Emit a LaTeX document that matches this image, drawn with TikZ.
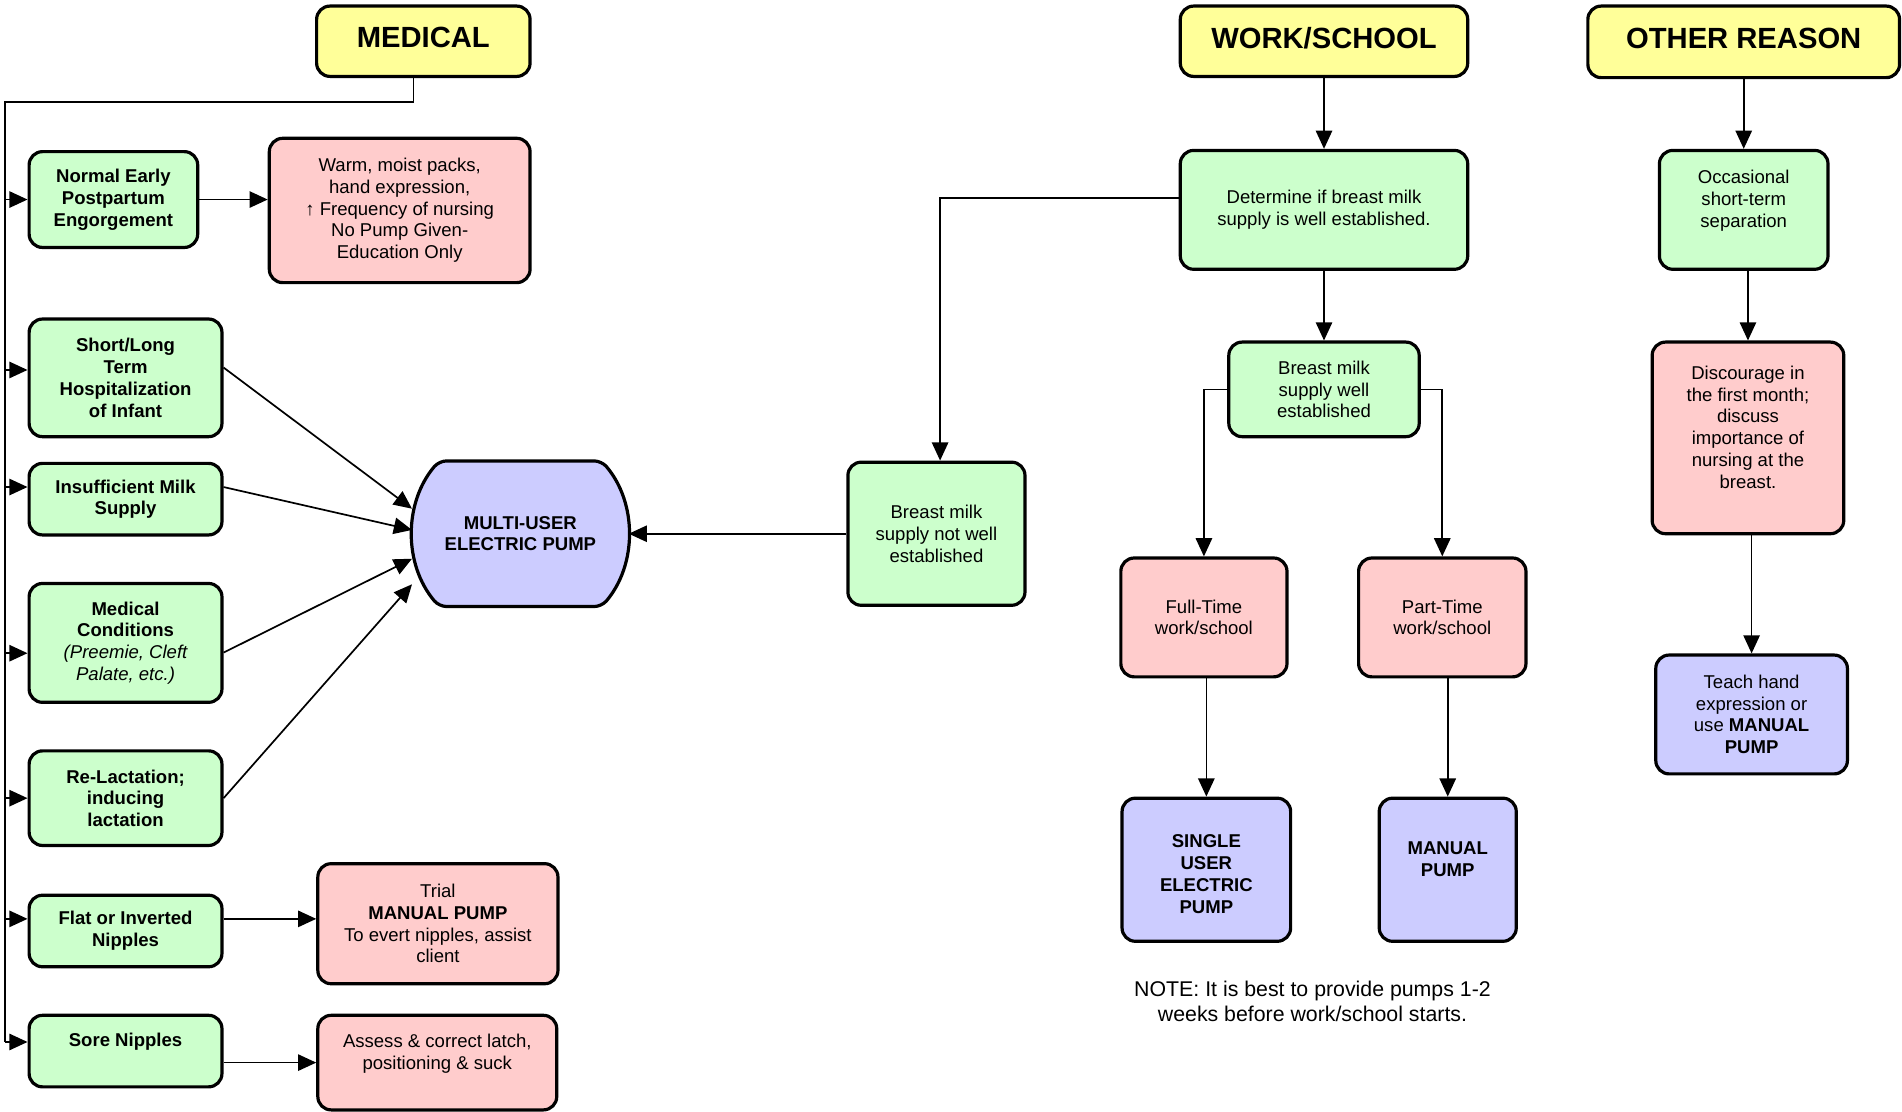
\documentclass[tikz,border=0pt]{standalone}
\usepackage{fontspec}
\setmainfont{Liberation Sans}
\usepackage{tikz}
\usetikzlibrary{shapes.misc, positioning, arrows.meta, backgrounds}
\definecolor{headyellow}{HTML}{FFFF99}
\definecolor{causegreen}{HTML}{CCFFCC}
\definecolor{advicepink}{HTML}{FFCCCC}
\definecolor{pumpblue}{HTML}{CCCCFF}
\tikzstyle{box} = [rectangle, rounded corners=0.22cm, draw=black, line width=1.5pt, align=center, inner sep=2pt, font=\fontsize{8.7}{10.2}\selectfont]
\tikzstyle{head} = [box, fill=headyellow, minimum height=1.16cm, text depth=0.12cm, font=\bfseries\fontsize{13.7}{16}\selectfont]
\tikzstyle{cause} = [box, fill=causegreen, minimum width=3.18cm, font=\bfseries\fontsize{8.7}{10.2}\selectfont]
\tikzstyle{check} = [box, fill=causegreen]
\tikzstyle{advice} = [box, fill=advicepink]
\tikzstyle{pump} = [box, fill=pumpblue]
\tikzstyle{arrow} = [line width=0.8pt, -{Triangle[length=0.3cm,width=0.27cm]}]
\tikzstyle{line} = [line width=0.8pt]
\def\lft{0.2cm}

\begin{document}
\begin{tikzpicture}[x=0.02cm, y=-0.02cm]
\useasboundingbox (0,0) rectangle (1568,916);

\node (medical) [head, minimum width=3.52cm] at (349,34) {MEDICAL};
\node (work) [head, minimum width=4.74cm] at (1091.5,34) {WORK/SCHOOL};
\node (other) [head, minimum width=5.14cm, minimum height=1.18cm] at (1437.5,34.5) {OTHER REASON};

\node (normal) [cause, minimum width=2.78cm, minimum height=1.58cm] at (93.5,164.5) {Normal Early\\Postpartum\\Engorgement};
\node (warm) [advice, minimum width=4.30cm, minimum height=2.38cm] at (329.5,173.5) {Warm, moist packs,\\hand expression,\\↑ Frequency of nursing\\No Pump Given-\\Education Only};
\node (short) [cause, minimum height=1.94cm] at (103.5,311.5) {Short/Long\\Term\\Hospitalization\\of Infant};
\node (insuff) [cause, minimum height=1.18cm] at (103.5,411.5) {Insufficient Milk\\Supply};
\node (medcond) [cause, minimum height=1.96cm] at (103.5,530) {Medical\\Conditions\\{\normalfont\itshape (Preemie, Cleft}\\{\normalfont\itshape Palate, etc.)}};
\node (relact) [cause, minimum height=1.56cm] at (103.5,658) {Re-Lactation;\\inducing\\lactation};
\node (flat) [cause, minimum height=1.18cm] at (103.5,767.5) {Flat or Inverted\\Nipples};
\node (trial) [advice, minimum width=3.96cm, minimum height=1.98cm] at (361,761.5) {Trial\\\textbf{MANUAL PUMP}\\To evert nipples, assist\\client};
\node (sore) [cause, minimum height=1.18cm] at (103.5,866.5) {Sore Nipples\\~};
\node (assess) [advice, minimum width=3.94cm, minimum height=1.56cm] at (360.5,876) {Assess \& correct latch,\\positioning \& suck\\~};

\node (multi) [align=center, minimum width=3.56cm, minimum height=2.4cm, font=\bfseries\fontsize{8.7}{10.2}\selectfont] at (429,440) {MULTI-USER\\ELECTRIC PUMP};
\begin{scope}[on background layer]
\draw [line width=1.5pt, fill=pumpblue, rounded corners=0.12cm] (429,380) -- (496,380) arc[start angle=40.3, end angle=-40.3, radius=1.856cm] -- (362,500) arc[start angle=220.3, end angle=139.7, radius=1.856cm] -- cycle;
\end{scope}

\node (notwell) [check, minimum width=2.92cm, minimum height=2.36cm] at (772,440) {Breast milk\\supply not well\\established};
\node (determine) [check, minimum width=4.74cm, minimum height=1.96cm] at (1091.5,173) {Determine if breast milk\\supply is well established.};
\node (wellest) [check, minimum width=3.14cm, minimum height=1.56cm] at (1091.5,321) {Breast milk\\supply well\\established};
\node (fulltime) [advice, minimum width=2.74cm, minimum height=1.96cm] at (992.5,509) {Full-Time\\work/school};
\node (parttime) [advice, minimum width=2.76cm, minimum height=1.96cm] at (1189,509) {Part-Time\\work/school};
\node (single) [pump, minimum width=2.78cm, minimum height=2.36cm, font=\bfseries\fontsize{8.7}{10.2}\selectfont] at (994.5,717) {~\\SINGLE\\USER\\ELECTRIC\\PUMP};
\node (manual) [pump, minimum width=2.26cm, minimum height=2.36cm, font=\bfseries\fontsize{8.7}{10.2}\selectfont] at (1193.5,717) {MANUAL\\PUMP\\~};
\node (note) [align=center, font=\fontsize{10}{11.9}\selectfont] at (1082,825.5) {NOTE: It is best to provide pumps 1-2\\weeks before work/school starts.};

\node (occasional) [check, minimum width=2.78cm, minimum height=1.96cm] at (1437.5,173) {Occasional\\short-term\\separation\\~};
\node (discourage) [advice, minimum width=3.16cm, minimum height=3.16cm] at (1441,361) {Discourage in\\the first month;\\discuss\\importance of\\nursing at the\\breast.\\~};
\node (teach) [pump, minimum width=3.16cm, minimum height=1.96cm] at (1444,589) {Teach hand\\expression or\\use \textbf{MANUAL}\\\textbf{PUMP}};

\coordinate (trunktop) at (4,84);
\coordinate (trunkbot) at (4,859);
\draw [line] ([xshift=-0.16cm]medical.south) |- (trunktop) -- (trunkbot);
\draw [arrow] (trunktop |- normal.west) -- (normal.west);
\draw [arrow] ([yshift=0.13cm]short.west -| trunktop) -- ([yshift=0.13cm]short.west);
\draw [arrow] ([yshift=\lft]insuff.west -| trunktop) -- ([yshift=\lft]insuff.west);
\draw [arrow] ([yshift=-0.17cm]medcond.west -| trunktop) -- ([yshift=-0.17cm]medcond.west);
\draw [arrow] (trunktop |- relact.west) -- (relact.west);
\draw [arrow] ([yshift=\lft]flat.west -| trunktop) -- ([yshift=\lft]flat.west);
\draw [arrow] (trunkbot) -- (trunkbot -| sore.west);

\draw [arrow] (normal.east) -- (normal.east -| warm.west);
\draw [arrow] ([yshift=\lft]flat.east) -- ([yshift=\lft]flat.east -| trial.west);
\draw [arrow] (sore.east |- assess.west) -- (assess.west);

\draw [arrow] ([yshift=0.17cm]short.east) -- (multi.167);
\draw [arrow] ([yshift=\lft]insuff.east) -- (multi.178);
\draw [arrow] ([yshift=-0.16cm]medcond.east) -- (multi.193);
\draw [arrow] (relact.east) -- (multi.205);
\draw [arrow] (notwell.west) -- (multi.east);

\draw [arrow] (work.south) -- (determine.north);
\draw [arrow] ([yshift=\lft]determine.west) -| ([xshift=0.06cm]notwell.north);
\draw [arrow] (determine.south) -- (wellest.north);
\draw [arrow] (wellest.west) -| (fulltime.north);
\draw [arrow] (wellest.east) -| (parttime.north);
\draw [arrow] (fulltime.south -| single.north) -- (single.north);
\draw [arrow] (parttime.south -| manual.north) -- (manual.north);

\draw [arrow] (other.south -| occasional.north) -- (occasional.north);
\draw [arrow] (occasional.south -| discourage.north) -- (discourage.north);
\draw [arrow] (discourage.south -| teach.north) -- (teach.north);

\end{tikzpicture}
\end{document}
